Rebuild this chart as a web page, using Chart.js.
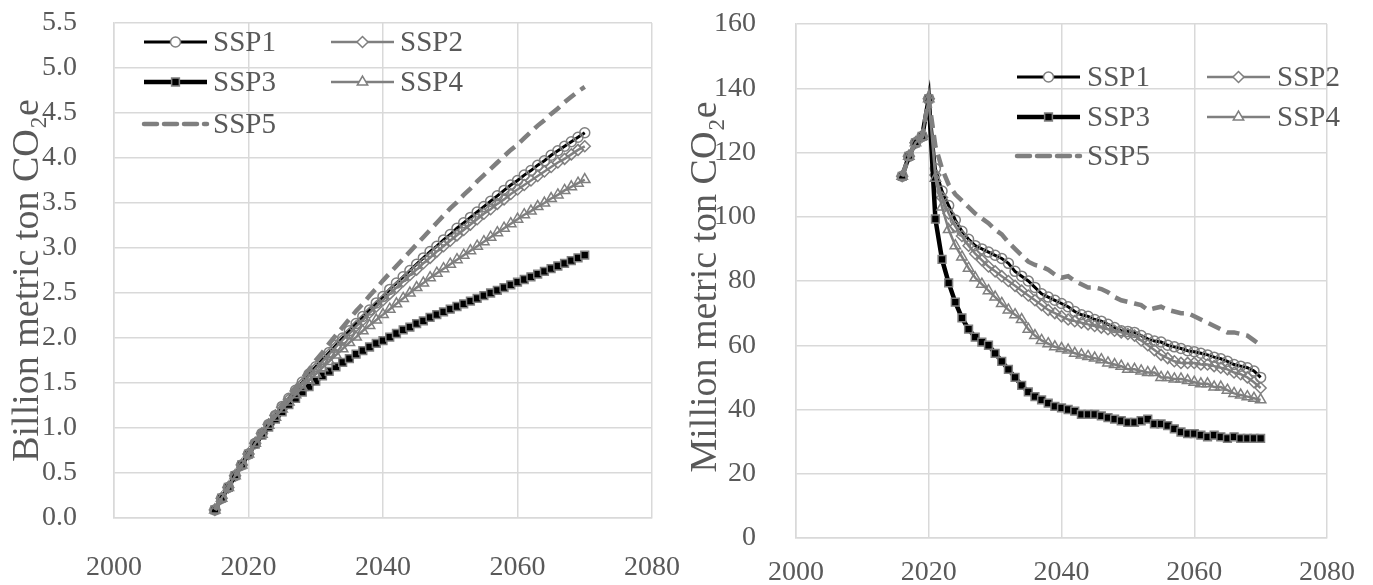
<!DOCTYPE html>
<html><head><meta charset="utf-8">
<script src="https://cdn.jsdelivr.net/npm/chart.js"></script>
<style>
html,body{margin:0;padding:0;background:#fff;}
#wrap{position:relative;width:1373px;height:585px;overflow:hidden;}
.c{position:absolute;top:0;}
</style></head><body>
<div id="wrap">
<div class="c" style="left:0"><canvas id="left" width="686" height="585"></canvas></div>
<div class="c" style="left:686px"><canvas id="right" width="687" height="585"></canvas></div>
</div>
<script>
// ---------- DATA ----------
const seriesNames = ['SSP1', 'SSP2', 'SSP3', 'SSP4', 'SSP5'];
const xTicks = [2000, 2020, 2040, 2060, 2080];

const leftYears = [2015,2016,2017,2018,2019,2020,2021,2022,2023,2024,2025,2026,2027,2028,2029,2030,2031,2032,2033,2034,2035,2036,2037,2038,2039,2040,2041,2042,2043,2044,2045,2046,2047,2048,2049,2050,2051,2052,2053,2054,2055,2056,2057,2058,2059,2060,2061,2062,2063,2064,2065,2066,2067,2068,2069,2070];
const leftSSP1 = [0.09,0.22,0.34,0.47,0.59,0.71,0.83,0.94,1.04,1.14,1.24,1.33,1.42,1.51,1.60,1.68,1.76,1.84,1.92,2.00,2.08,2.16,2.24,2.31,2.39,2.46,2.54,2.61,2.68,2.75,2.82,2.89,2.96,3.02,3.09,3.15,3.22,3.28,3.34,3.40,3.46,3.52,3.58,3.64,3.70,3.75,3.81,3.86,3.92,3.97,4.03,4.08,4.13,4.18,4.23,4.28];
const leftSSP2 = [0.09,0.22,0.34,0.47,0.59,0.71,0.83,0.94,1.04,1.14,1.23,1.32,1.41,1.49,1.58,1.66,1.74,1.82,1.90,1.98,2.05,2.13,2.20,2.28,2.35,2.42,2.49,2.56,2.63,2.70,2.76,2.83,2.89,2.96,3.02,3.08,3.14,3.20,3.26,3.32,3.38,3.43,3.49,3.54,3.60,3.65,3.70,3.75,3.80,3.85,3.90,3.95,3.99,4.04,4.09,4.13];
const leftSSP3 = [0.09,0.22,0.34,0.47,0.59,0.71,0.82,0.92,1.01,1.10,1.18,1.26,1.33,1.40,1.46,1.52,1.58,1.63,1.68,1.73,1.77,1.82,1.86,1.90,1.94,1.97,2.01,2.05,2.09,2.12,2.16,2.19,2.23,2.26,2.29,2.32,2.35,2.38,2.41,2.44,2.47,2.50,2.53,2.56,2.59,2.62,2.65,2.68,2.71,2.74,2.77,2.80,2.83,2.86,2.89,2.92];
const leftSSP4 = [0.09,0.22,0.34,0.47,0.59,0.71,0.83,0.93,1.03,1.12,1.21,1.29,1.37,1.45,1.53,1.60,1.67,1.74,1.81,1.88,1.95,2.01,2.08,2.14,2.20,2.26,2.32,2.38,2.44,2.50,2.56,2.61,2.67,2.72,2.77,2.82,2.87,2.92,2.97,3.02,3.07,3.12,3.17,3.22,3.27,3.32,3.37,3.41,3.46,3.50,3.55,3.59,3.64,3.68,3.72,3.76];
const leftSSP5 = [0.09,0.22,0.34,0.47,0.59,0.71,0.83,0.94,1.05,1.15,1.25,1.35,1.45,1.55,1.65,1.75,1.84,1.94,2.03,2.12,2.21,2.30,2.38,2.47,2.55,2.64,2.72,2.80,2.88,2.96,3.04,3.12,3.20,3.28,3.36,3.44,3.51,3.59,3.66,3.74,3.81,3.88,3.95,4.02,4.09,4.15,4.22,4.29,4.36,4.42,4.49,4.55,4.62,4.68,4.74,4.79];
const leftYTicks = [0.0,0.5,1.0,1.5,2.0,2.5,3.0,3.5,4.0,4.5,5.0,5.5];

const rightYears = [2016,2017,2018,2019,2020,2021,2022,2023,2024,2025,2026,2027,2028,2029,2030,2031,2032,2033,2034,2035,2036,2037,2038,2039,2040,2041,2042,2043,2044,2045,2046,2047,2048,2049,2050,2051,2052,2053,2054,2055,2056,2057,2058,2059,2060,2061,2062,2063,2064,2065,2066,2067,2068,2069,2070];
const rightSSP1 = [112.6,118.8,123,125,136.7,115,108,103.5,99,95.5,93,91,90,89,88,87,85.5,83,81.5,80,78,76,75,74,73,72,70.5,69.5,69,68,67.5,66.5,65.5,64.5,64.3,64,63,62,61.3,61,60,59.5,59,58.3,58,57.5,57,56.3,55.8,55,54,53.5,53,52,50];
const rightSSP2 = [112.6,118.8,123,125,136.7,113,106,101,97,94,91,88.5,86.5,84.5,83,81.5,80,78.5,77,75.5,74,72.5,71,70,69,68,67.5,67,66.5,66,65.5,65,64.5,64,63.5,63,61.5,60,58.5,57,56,55,54.5,54.5,54.5,54,54,53.5,53,52.5,51.5,51,50,48.5,46.7];
const rightSSP3 = [112.6,118.8,123,125,136.7,99.3,86.7,79.4,73.4,68.5,65,62.5,61,60,57.5,55,52.5,50,47.5,45.5,44,43,42,41,40.5,40,39.5,38.5,38.5,38.5,38,37.5,37,36.5,36,36,36.5,37,35.5,35.5,35,34,33,32.5,32.5,32,31.5,32,31.5,31,31.5,31,31,31,31];
const rightSSP4 = [112.6,118.8,123,125,136.7,112,103,96,91,87.5,84,81,79,77,75,73,71,69.5,68,65,63,61.5,60.5,59.5,59,58.5,57.5,57,56.5,56,55.5,54.5,54,53.5,52.5,52.5,52,51.5,51.5,50,50,49.5,49.5,49,48.5,48,48,47,47,46,45,44.5,44,43.5,43];
const rightSSP5 = [112.6,118.8,123,125,136.7,122,115,110,107,105,103,101,99.5,98,96,94.5,92,90,88,86,85,84.5,83.5,82,81,81.5,80,79,78,78,77.5,76.5,75,74,73.5,73,72.5,71,71.5,72,71,70.5,70,70,69,68,67,66,65,64,64,63.5,63,61.5,60];
const rightYTicks = [0,20,40,60,80,100,120,140,160];

// ---------- STYLE ----------
const FONT = 'Liberation Serif, Times New Roman, serif';
const TXT = '#595959';
const GRID = '#d9d9d9';
const GRAY = '#7f7f7f';
const styles = [
  {borderColor:'#000', borderWidth:3, pointStyle:'circle', pointRadius:5, pointBorderColor:GRAY, pointBackgroundColor:'rgba(0,0,0,0)', legendFill:'#fff', pointBorderWidth:1.5},
  {borderColor:GRAY, borderWidth:2.5, pointStyle:'rectRot', pointRadius:5.5, pointBorderColor:GRAY, pointBackgroundColor:'rgba(0,0,0,0)', legendFill:'#fff', pointBorderWidth:1.5},
  {borderColor:'#000', borderWidth:4.5, pointStyle:'rect', pointRadius:5.5, pointBorderColor:GRAY, pointBackgroundColor:'#000', legendFill:'#000', pointBorderWidth:1.5},
  {borderColor:GRAY, borderWidth:2.5, pointStyle:'triangle', pointRadius:6, pointBorderColor:GRAY, pointBackgroundColor:'rgba(0,0,0,0)', legendFill:'#fff', pointBorderWidth:1.5},
  {borderColor:GRAY, borderWidth:4.5, borderDash:[13,7], pointRadius:0, pointBorderWidth:0}
];

function buildDatasets(years, seriesList) {
  return seriesList.map((vals, i) => Object.assign({
    label: seriesNames[i],
    data: years.map((yr, k) => ({x: yr, y: vals[k]})),
    fill: false, tension: 0, order: 5 - i, pointHoverRadius: 0
  }, styles[i]));
}

const legendPlugin = {
  id: 'sspLegend',
  afterDraw(chart, args, opts) {
    const ctx = chart.ctx, ca = chart.chartArea;
    ctx.save();
    chart.data.datasets.forEach((ds, i) => {
      const p = opts.items[i];
      const x1 = ca.left + p[0], y = ca.top + p[1], x2 = x1 + opts.lineLen;
      ctx.strokeStyle = ds.borderColor;
      ctx.lineWidth = ds.borderWidth;
      ctx.setLineDash(ds.borderDash || []);
      ctx.lineCap = ds.borderDash ? 'round' : 'butt';
      ctx.beginPath(); ctx.moveTo(x1, y); ctx.lineTo(x2, y); ctx.stroke();
      ctx.setLineDash([]);
      if (ds.pointRadius > 0) {
        ctx.fillStyle = ds.legendFill;
        ctx.strokeStyle = ds.pointBorderColor;
        ctx.lineWidth = ds.pointBorderWidth;
        Chart.helpers.drawPoint(ctx, {pointStyle: ds.pointStyle, radius: ds.pointRadius, borderWidth: ds.pointBorderWidth, rotation: 0}, (x1 + x2) / 2, y);
      }
      ctx.fillStyle = TXT;
      ctx.font = opts.fontSize + 'px ' + FONT;
      ctx.textAlign = 'left';
      ctx.textBaseline = 'middle';
      ctx.fillText(ds.label, x2 + opts.gap, y + 1);
    });
    ctx.restore();
  }
};

const yTitlePlugin = {
  id: 'yTitle',
  afterDraw(chart, args, o) {
    const ctx = chart.ctx, ca = chart.chartArea;
    ctx.save();
    ctx.translate(o.x, (ca.top + ca.bottom) / 2 + o.dy);
    ctx.rotate(-Math.PI / 2);
    ctx.fillStyle = TXT;
    ctx.font = o.size + 'px ' + FONT;
    ctx.textAlign = 'center';
    ctx.textBaseline = 'middle';
    ctx.fillText(o.text, 0, 0);
    ctx.restore();
  }
};

function makeChart(id, cfg) {
  return new Chart(document.getElementById(id), {
    type: 'line',
    data: {datasets: buildDatasets(cfg.years, cfg.series)},
    plugins: [legendPlugin, yTitlePlugin],
    options: {
      responsive: false, animation: false, devicePixelRatio: 1,
      layout: {padding: {top: cfg.top, right: cfg.right, left: 0, bottom: 0}},
      plugins: {legend: {display: false}, tooltip: {enabled: false}, sspLegend: cfg.legend, yTitle: cfg.title},
      scales: {
        x: {
          type: 'linear', min: xTicks[0], max: xTicks[xTicks.length - 1],
          afterBuildTicks: s => { s.ticks = xTicks.map(v => ({value: v})); },
          afterFit: s => { s.height = cfg.xHeight; s.paddingLeft = 0; s.paddingRight = 0; s.paddingTop = 0; s.paddingBottom = 0; },
          grid: {color: GRID, lineWidth: 1.5, drawTicks: false},
          border: {display: true, color: GRID, width: 1.5},
          ticks: {font: {family: FONT, size: 28}, color: TXT, padding: cfg.xPad, maxRotation: 0, callback: v => String(v)}
        },
        y: {
          type: 'linear', min: cfg.yTicks[0], max: cfg.yTicks[cfg.yTicks.length - 1],
          afterBuildTicks: s => { s.ticks = cfg.yTicks.map(v => ({value: v})); },
          afterFit: s => { s.width = cfg.yWidth; s.paddingTop = 0; s.paddingBottom = 0; s.paddingLeft = 0; s.paddingRight = 0; },
          grid: {color: GRID, lineWidth: 1.5, drawTicks: false},
          border: {display: true, color: GRID, width: 1.5},
          ticks: {font: {family: FONT, size: 28}, color: TXT, padding: cfg.yPad, callback: cfg.yFmt}
        }
      }
    }
  });
}

makeChart('left', {
  years: leftYears,
  series: [leftSSP1, leftSSP2, leftSSP3, leftSSP4, leftSSP5],
  yTicks: leftYTicks,
  yFmt: v => Number(v).toFixed(1),
  title: {text: 'Billion metric ton CO\u2082e', x: 28, dy: 10, size: 38},
  top: 23, right: 34, yWidth: 114, xHeight: 67, xPad: 33, yPad: 37,
  legend: {lineLen: 63, gap: 6, fontSize: 29, items: [[30, 19], [217, 19], [30, 59], [217, 59], [30, 101]]}
});

makeChart('right', {
  years: rightYears,
  series: [rightSSP1, rightSSP2, rightSSP3, rightSSP4, rightSSP5],
  yTicks: rightYTicks,
  yFmt: v => String(v),
  title: {text: 'Million metric ton CO\u2082e', x: 20, dy: 6, size: 38},
  top: 24, right: 46, yWidth: 110, xHeight: 47, xPad: 18, yPad: 40,
  legend: {lineLen: 63, gap: 7, fontSize: 29, items: [[221, 53], [411, 53], [221, 93], [411, 93], [221, 132]]}
});
</script>
</body></html>
